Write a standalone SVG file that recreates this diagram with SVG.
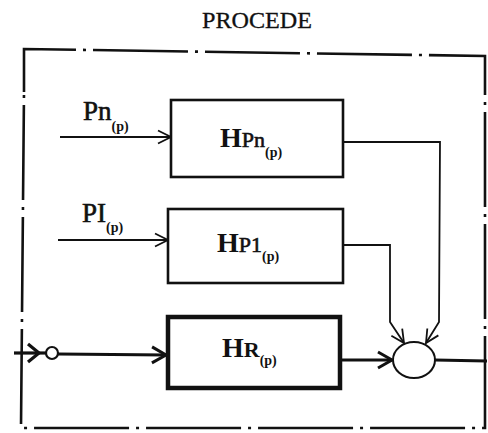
<svg xmlns="http://www.w3.org/2000/svg" width="488" height="433" viewBox="0 0 488 433">
<style>
  text { font-family: "Liberation Serif", "Times New Roman", serif; fill: #111; }
  .title { font-size: 23px; stroke: #111; stroke-width: 0.3; }
  .big { font-size: 28px; font-weight: bold; }
  .mid { font-size: 22px; stroke: #111; stroke-width: 0.6; }
  .midb { font-size: 22px; font-weight: bold; }
  .sub { font-size: 14px; font-weight: bold; }
  .lbl { font-size: 27px; stroke: #111; stroke-width: 0.6; }
  .lsub { font-size: 14px; font-weight: bold; }
  .frame { fill: none; stroke: #111; stroke-width: 2.6; stroke-dasharray: 95 7 3 7; }
  .box { fill: #fff; stroke: #111; stroke-width: 2.6; }
  .boxR { fill: #fff; stroke: #111; stroke-width: 4.5; }
  .line { fill: none; stroke: #111; stroke-width: 1.8; }
  .thick { fill: none; stroke: #111; stroke-width: 3.2; }
</style>
<defs>
  <marker id="arrow" markerUnits="userSpaceOnUse" markerWidth="20" markerHeight="20" viewBox="-16 -10 20 20" refX="0" refY="0" orient="auto" overflow="visible">
    <path d="M-13,-6.5 L0,0 L-13,6.5" fill="none" stroke="#111" stroke-width="1.8"/>
  </marker>
  <marker id="arrowBig" markerUnits="userSpaceOnUse" markerWidth="24" markerHeight="24" viewBox="-18 -12 24 24" refX="0" refY="0" orient="auto" overflow="visible">
    <path d="M-14,-8 L0,0 L-14,8" fill="none" stroke="#111" stroke-width="3"/>
  </marker>
</defs>
<rect width="488" height="433" fill="#fff"/>

<g id="procede">
  <text class="title" x="202" y="28" textLength="110" lengthAdjust="spacingAndGlyphs">PROCEDE</text>
  <path class="frame" d="M24,92 L24,49 L485,56 L485,428 L21,428 L24,92" />
</g>

<g id="connectors">
  <g id="in-pn">
    <line class="line" x1="60" y1="137" x2="171" y2="137" marker-end="url(#arrow)"/>
    <text x="83" y="120"><tspan class="lbl">Pn</tspan><tspan class="lsub" dy="11">(p)</tspan></text>
  </g>
  <g id="in-pi">
    <line class="line" x1="58" y1="240" x2="168" y2="240" marker-end="url(#arrow)"/>
    <text x="82" y="222"><tspan class="lbl">PI</tspan><tspan class="lsub" dy="10">(p)</tspan></text>
  </g>
  <g id="in-r">
    <line class="thick" x1="14" y1="353" x2="46" y2="353"/>
    <path class="thick" d="M28,344 L39,353 L28,362"/>
    <line class="thick" x1="58" y1="354" x2="166" y2="355" marker-end="url(#arrowBig)"/>
  </g>
  <path class="line" d="M343,142 L440,142 L439,322 L426,343" marker-end="url(#arrow)"/>
  <path class="line" d="M343,245 L390,245 L390,322 L404,343" marker-end="url(#arrow)"/>
  <line class="thick" x1="341" y1="360" x2="392" y2="360" marker-end="url(#arrowBig)"/>
  <line class="thick" x1="435" y1="360" x2="487" y2="361"/>
</g>

<g id="node-hpn">
  <rect class="box" x="171" y="100" width="172" height="77"/>
  <text x="220" y="147"><tspan class="big">H</tspan><tspan class="mid">Pn</tspan><tspan class="sub" dy="10">(p)</tspan></text>
</g>

<g id="node-hp1">
  <rect class="box" x="168" y="209" width="175" height="74"/>
  <text x="217" y="252"><tspan class="big">H</tspan><tspan class="mid">P1</tspan><tspan class="sub" dy="9">(p)</tspan></text>
</g>

<g id="node-hr">
  <rect class="boxR" x="168" y="317" width="172" height="71"/>
  <text x="222" y="357"><tspan class="big">H</tspan><tspan class="midb">R</tspan><tspan class="sub" dy="8">(p)</tspan></text>
</g>

<g id="node-junction">
  <circle cx="52" cy="353" r="6" fill="#fff" stroke="#111" stroke-width="2.2"/>
</g>

<g id="node-sum">
  <ellipse cx="414" cy="360" rx="21" ry="18" fill="#fff" stroke="#111" stroke-width="2"/>
</g>
</svg>
